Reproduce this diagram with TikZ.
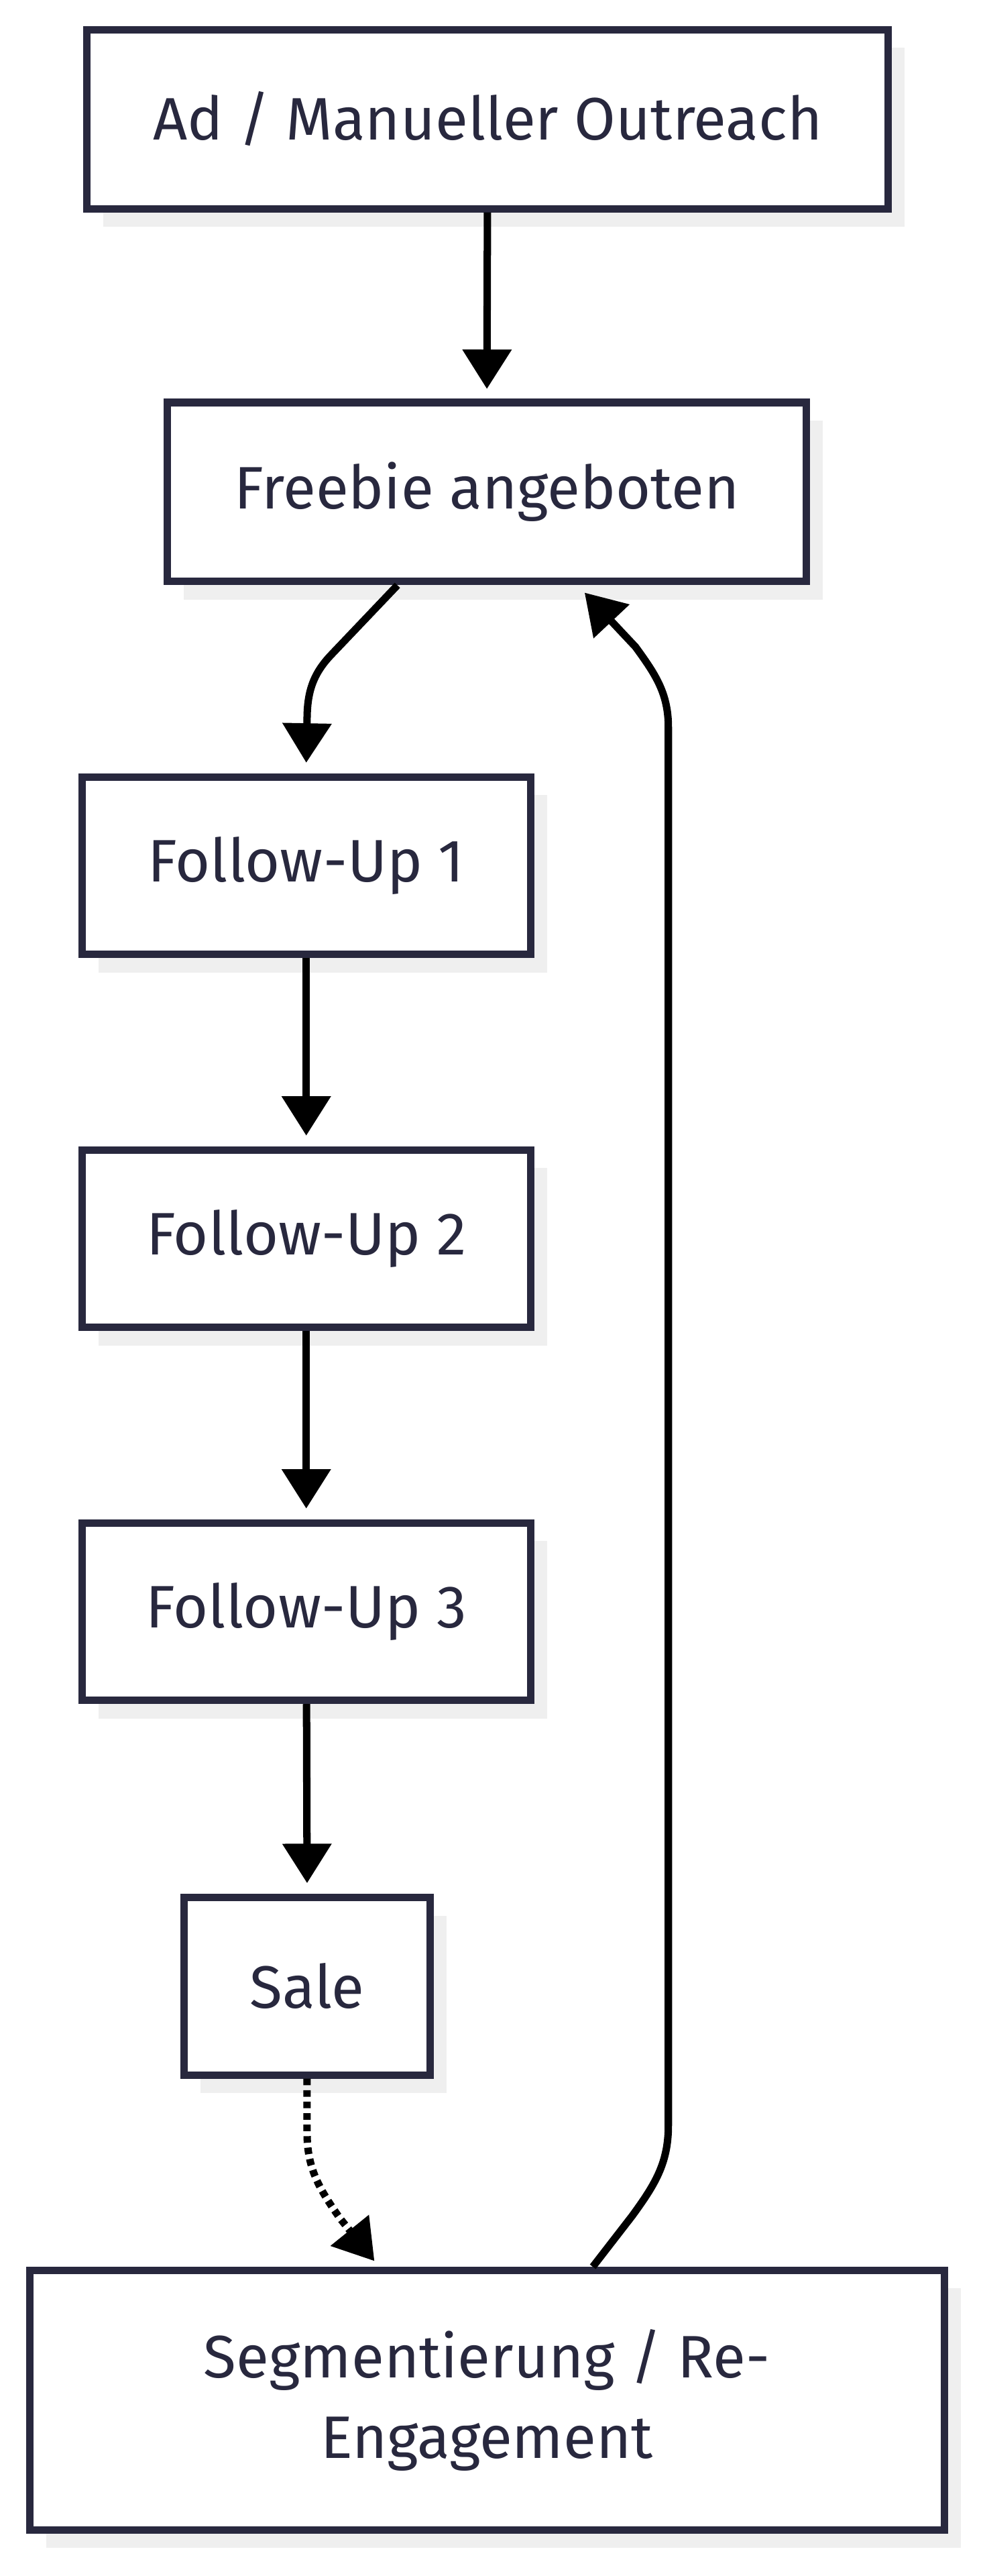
\documentclass[tikz,border=0pt]{standalone}
\usepackage{fontspec}
\setmainfont{Fira Sans}
\usepackage{tikz}
\usetikzlibrary{arrows.meta,shadows,positioning}
\definecolor{boxline}{RGB}{40, 40, 62}
\definecolor{boxtext}{RGB}{40, 40, 62}
\definecolor{shadowgray}{RGB}{239, 239, 239}

\begin{document}
\begin{tikzpicture}[x=1pt, y=1pt, >={Triangle[length=24pt, width=29pt]},
    box/.style={draw=boxline, line width=4.5pt, fill=white, text=boxtext,
        inner sep=0pt, align=center, font=\fontsize{36.5}{49}\selectfont,
        drop shadow={shadow xshift=10pt, shadow yshift=-11pt, fill=shadowgray, opacity=1}},
    link/.style={->, line width=4.5pt, black}]
    \useasboundingbox (0,0) rectangle (597,-1568);

    % Steps
    \node[box, minimum width=488pt, minimum height=109pt] (ad) at (297,-72.5) {Ad / Manueller Outreach};
    \node[box, minimum width=389pt, minimum height=109pt] (freebie) at (296.5,-299.5) {Freebie angeboten};
    \node[box, minimum width=273pt, minimum height=108pt] (fu1) at (186.5,-527) {Follow-Up 1};
    \node[box, minimum width=273pt, minimum height=108pt] (fu2) at (186.5,-754) {Follow-Up 2};
    \node[box, minimum width=273pt, minimum height=108pt] (fu3) at (186.5,-981) {Follow-Up 3};
    \node[box, minimum width=150pt, minimum height=108pt] (sale) at (187,-1209) {Sale};
    \node[box, minimum width=557pt, minimum height=158pt] (seg) at (296.5,-1461) {Segmentierung / Re-\\Engagement};

    % Funnel
    \draw[link] (ad) -- ([yshift=6pt]freebie.north);
    \draw[link] ([xshift=-54.5pt]freebie.south) -- ++(-40,-42)
        to[out=-134, in=90] ++(-15,-40) -- ([yshift=6.5pt]fu1.north);
    \draw[link] (fu1) -- ([yshift=6.5pt]fu2.north);
    \draw[link] (fu2) -- ([yshift=6.5pt]fu3.north);
    \draw[link] (fu3) -- ([yshift=6.5pt]sale.north);

    % After the sale
    \draw[link, dash pattern=on 4pt off 3pt] (sale.south) -- ++(0,-33)
        to[out=-90, in=125] ++(20,-52) -- ([xshift=-68.5pt, yshift=3.5pt]seg.north);
    \draw[link] ([xshift=64.5pt]seg.north) -- ++(24,31)
        to[out=54, in=-90] ++(22,55) -- ++(0,851)
        to[out=90, in=-54] ++(-20,49) -- ([xshift=59.5pt, yshift=-4.5pt]freebie.south);
\end{tikzpicture}
\end{document}
